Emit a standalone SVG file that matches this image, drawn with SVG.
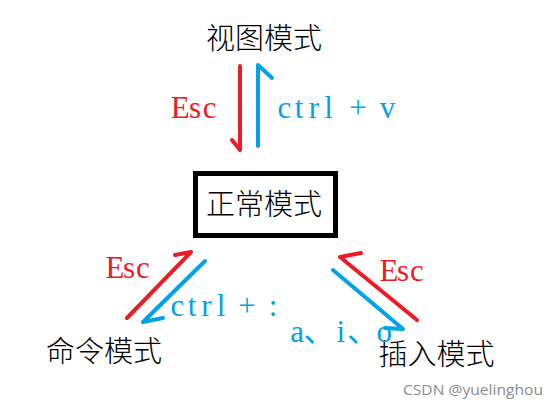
<svg xmlns="http://www.w3.org/2000/svg" width="554" height="414" viewBox="0 0 554 414">
<style>
.cjk{font-family:"Noto Sans CJK SC","Noto Sans CJK JP",sans-serif;font-size:29px;font-weight:300;fill:#000;text-anchor:middle}
.lat{font-family:"Liberation Serif","Noto Sans CJK SC",serif;font-size:31px;text-anchor:middle}
.red{fill:#ED1C24}
.blue{fill:#00A2E8}
.r{stroke:#ED1C24;stroke-width:4;fill:none;stroke-linecap:round;stroke-linejoin:round}
.b{stroke:#00A2E8;stroke-width:4;fill:none;stroke-linecap:round;stroke-linejoin:round}
</style>
<rect width="554" height="414" fill="#fff"/>
<g id="view-mode"><text class="cjk" x="264" y="49">视图模式</text></g>
<g id="normal-mode">
<rect x="195.5" y="173.5" width="140" height="62" fill="#fff" stroke="#000" stroke-width="5"/>
<text class="cjk" x="264" y="215">正常模式</text>
</g>
<g id="command-mode"><text class="cjk" x="104" y="362">命令模式</text></g>
<g id="insert-mode"><text class="cjk" x="436.5" y="365">插入模式</text></g>
<g id="connectors">
<path class="r" d="M240,66 L240,150 M232,140 L240,150"/>
<path class="b" d="M258,146 L258,65 L272,78"/>
<path class="r" d="M127,318 L191,252 L175,255"/>
<path class="b" d="M205,261 L143,322 L163,318"/>
<path class="r" d="M417,320 L340,257 L361,253"/>
<path class="b" d="M333,270 L403,329 L385,328"/>
</g>
<g id="labels">
<text class="lat red" x="180.3 195 209.7" y="118">Esc</text>
<text class="lat blue" x="284.4 299.1 313.9 328.6 343.4 358.1 372.9 387.6" y="118">ctrl + v</text>
<text class="lat red" x="115 129 143" y="278">Esc</text>
<text class="lat blue" x="177.5 192 206.5 221 234 247 260 273" y="316">ctrl + :</text>
<text class="lat red" x="389 403 417" y="281">Esc</text>
<text class="lat blue" x="297.25 319 340.75 362.5 384.25" y="342">a、i、o</text>
</g>
<text x="403" y="395" font-family="Open Sans, sans-serif" font-size="14" fill="#8c8c8c" textLength="140" lengthAdjust="spacingAndGlyphs">CSDN @yuelinghou</text>
</svg>
